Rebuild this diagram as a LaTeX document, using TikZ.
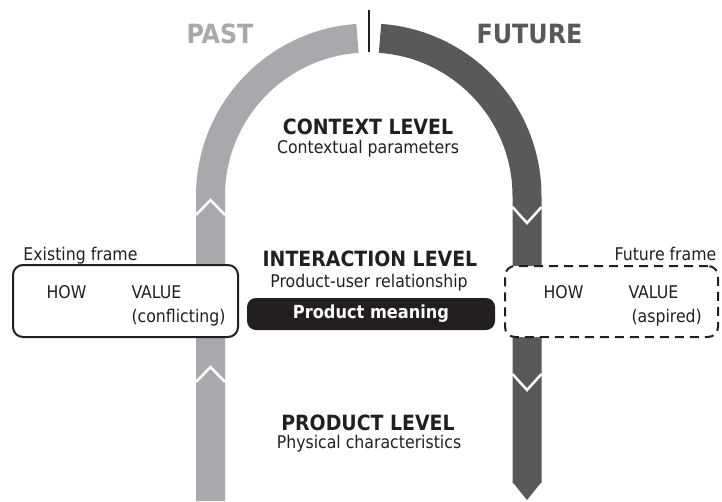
\documentclass[tikz,border=0pt]{standalone}
\usepackage{fontspec}
\setmainfont{DejaVu Sans Condensed}
\usetikzlibrary{calc}
\definecolor{pastgray}{HTML}{A7A9AC}
\definecolor{futuregray}{HTML}{58595B}
\definecolor{ink}{HTML}{231F20}
\newcommand{\drawChevron}[2]{%
	\draw[chevron] ($(#1)+(-14.5,#2)$) -- (#1) -- ($(#1)+(14.5,#2)$);
}

\begin{document}
\begin{tikzpicture}[x=1pt,y=-1pt,
	band/.style={line width=29pt},
	chevron/.style={white,line width=2.5pt},
	bigtitle/.style={font=\bfseries\fontsize{26.5}{30}\selectfont,anchor=base},
	leveltitle/.style={font=\bfseries\fontsize{21}{25}\selectfont,text=ink,anchor=base},
	sub/.style={font=\fontsize{17.5}{20}\selectfont,text=ink,anchor=base},
	subleft/.style={font=\fontsize{17.5}{20}\selectfont,text=ink,anchor=base west},
	framebox/.style={draw=ink,line width=2pt,fill=white,rounded corners=10pt,inner sep=0pt}]
	\useasboundingbox (0,0) rectangle (722,501);

	\coordinate (ARC_C) at (369,196);
	\coordinate (L_BOT) at (210.5,501);
	\coordinate (L_MID) at (210.5,196);
	\coordinate (R_BOT) at (527,483);
	\coordinate (R_MID) at (527,196);
	\coordinate (DIV_T) at (369,10);
	\coordinate (DIV_B) at (369,52);

	% arch
	\draw[band,pastgray] (L_BOT) -- (L_MID) arc[start angle=180,end angle=266,radius=158];
	\draw[band,futuregray] (R_BOT) -- (R_MID) arc[start angle=0,end angle=-86,radius=158];
	\fill[futuregray] (512.5,482) -- (527,500) -- (541.5,482) -- cycle;
	\draw[ink,line width=2.5pt] (DIV_T) -- (DIV_B);

	\coordinate (CH1) at (210.5,200);
	\coordinate (CH2) at (210.5,367);
	\coordinate (CH3) at (527,223);
	\coordinate (CH4) at (527,390);
	\drawChevron{CH1}{15}
	\drawChevron{CH2}{15}
	\drawChevron{CH3}{-16}
	\drawChevron{CH4}{-16}

	\node[bigtitle,text=pastgray] (past) at (220,43) {PAST};
	\node[bigtitle,text=futuregray] (future) at (529.5,43) {FUTURE};

	\node[leveltitle] (ctx) at (368,134) {CONTEXT LEVEL};
	\node[sub] (ctxsub) at (368,153) {Contextual parameters};
	\node[leveltitle] (inter) at (370,266) {INTERACTION LEVEL};
	\node[sub] (intersub) at (369,287) {Product-user relationship};
	\node[leveltitle] (prod) at (368,430) {PRODUCT LEVEL};
	\node[sub] (prodsub) at (369,448) {Physical characteristics};

	\node[fill=ink,rounded corners=9pt,minimum width=248pt,minimum height=32pt,inner sep=0pt,
		text=white,font=\bfseries\fontsize{18}{21}\selectfont] (meaning) at (371,314) {Product meaning};

	% frames
	\node[framebox,minimum width=225pt,minimum height=72pt] (oldframe) at (125.5,301) {};
	\node[framebox,dash pattern=on 9pt off 6pt,minimum width=213pt,minimum height=71pt] (newframe) at (611.5,301.5) {};
	\node[sub] (oldlabel) at (80.5,260) {Existing frame};
	\node[sub] (newlabel) at (665.5,260) {Future frame};
	\node[subleft] (oldhow) at (43,298) {HOW};
	\node[subleft] (oldval) at (128,298) {VALUE};
	\node[subleft] (oldcon) at (128,322) {(conflicting)};
	\node[subleft] (newhow) at (540,298) {HOW};
	\node[subleft] (newval) at (625,298) {VALUE};
	\node[subleft] (newasp) at (628,322) {(aspired)};
\end{tikzpicture}
\end{document}
